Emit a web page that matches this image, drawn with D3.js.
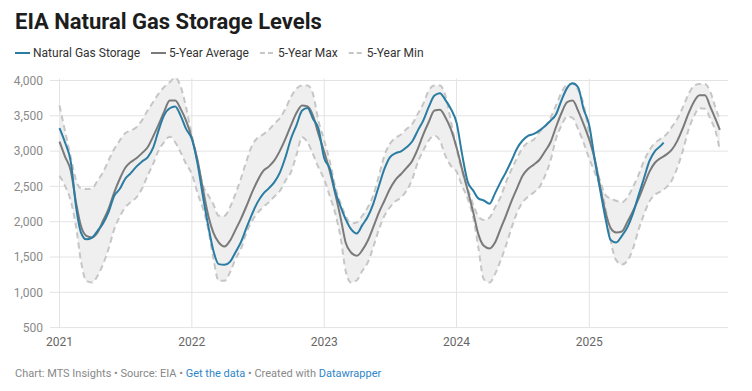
<!DOCTYPE html>
<html><head><meta charset="utf-8">
<script src="https://cdn.jsdelivr.net/npm/d3@7"></script>
<style>
body{margin:0;background:#fff;}
svg text{font-family:Roboto,"Noto Sans",sans-serif;}
</style></head><body>
<svg id="c" width="752" height="391"></svg>
<script>
// ---------- DATA ----------
const years = [2021, 2022, 2023, 2024, 2025];
const yTicks = [500, 1000, 1500, 2000, 2500, 3000, 3500, 4000];
const seriesNames = ["Natural Gas Storage", "5-Year Average", "5-Year Max", "5-Year Min"];

// semi-monthly readings (1st and 16th of each month), Bcf
const storageValues = [
  3324, 3125, 2850, 2200, 1850, 1750, 1775, 1871, 1975, 2132, 2368, 2463, 2605, 2685, 2780, 2850, 2912, 3045, 3290, 3503, 3607, 3631, 3503, 3314, // 2021
  3172, 2841, 2344, 1919, 1597, 1399, 1389, 1432, 1564, 1706, 1919, 2108, 2274, 2392, 2472, 2557, 2699, 2912, 3172, 3361, 3574, 3612, 3456, 3320, // 2022
  2900, 2760, 2415, 2203, 2037, 1895, 1834, 1952, 2070, 2250, 2510, 2747, 2912, 2969, 2997, 3054, 3139, 3290, 3432, 3622, 3787, 3820, 3726, 3600, // 2023
  3400, 2960, 2560, 2440, 2330, 2300, 2255, 2401, 2557, 2699, 2870, 3040, 3150, 3215, 3243, 3290, 3357, 3430, 3518, 3716, 3896, 3962, 3905, 3600, // 2024
  3361, 2880, 2420, 2010, 1740, 1705, 1800, 1920, 2110, 2360, 2620, 2860, 3000, 3070,                                                   // 2025 (to Jul 16)
  3120                                                                                                                                    // 2025-07-25
];
const avgValues = [
  3134, 2926, 2723, 2260, 1942, 1800, 1777, 1848, 2013, 2179, 2415, 2605, 2761, 2841, 2898, 2969, 3054, 3205, 3371, 3551, 3715, 3715, 3598, 3432,
  3186, 2888, 2449, 2070, 1848, 1706, 1649, 1730, 1881, 2037, 2226, 2415, 2581, 2713, 2780, 2865, 3007, 3172, 3361, 3536, 3645, 3631, 3503, 3243,
  2990, 2720, 2380, 2037, 1706, 1564, 1517, 1597, 1730, 1919, 2132, 2297, 2463, 2590, 2676, 2761, 2865, 3030, 3234, 3409, 3574, 3584, 3480, 3314,
  3050, 2747, 2439, 2132, 1824, 1659, 1621, 1706, 1895, 2084, 2297, 2477, 2652, 2747, 2808, 2874, 2997, 3125, 3338, 3536, 3693, 3716, 3574, 3385,
  3160, 2888, 2463, 2108, 1909, 1848, 1862, 1995, 2145, 2315, 2520, 2710, 2835, 2898, 2950, 3016, 3149, 3324, 3527, 3693, 3790, 3790, 3622, 3442,
  3300
];
const maxValues = [
  3645, 3290, 2912, 2581, 2472, 2463, 2472, 2581, 2700, 2865, 3030, 3149, 3253, 3290, 3338, 3432, 3574, 3693, 3811, 3905, 3976, 4038, 3915, 3622,
  3220, 2865, 2510, 2368, 2250, 2084, 2084, 2203, 2392, 2605, 2865, 3078, 3186, 3234, 3300, 3385, 3470, 3598, 3764, 3882, 3929, 3929, 3811, 3432,
  3150, 2865, 2486, 2250, 2084, 1975, 1990, 2084, 2203, 2368, 2652, 2936, 3101, 3186, 3234, 3314, 3385, 3527, 3669, 3858, 3929, 3929, 3787, 3432,
  3030, 2723, 2463, 2240, 2075, 2023, 2061, 2203, 2345, 2557, 2747, 2903, 3045, 3125, 3163, 3267, 3347, 3470, 3645, 3825, 3943, 3953, 3868, 3669,
  3240, 2865, 2557, 2368, 2330, 2297, 2274, 2345, 2486, 2652, 2865, 3016, 3115, 3172, 3234, 3338, 3460, 3620, 3800, 3920, 3950, 3950, 3834, 3598,
  3440
];
const minValues = [
  2652, 2510, 2297, 1919, 1446, 1162, 1139, 1233, 1398, 1611, 1895, 2070, 2203, 2274, 2344, 2463, 2652, 2818, 3007, 3125, 3205, 3125, 2983, 2818,
  2676, 2415, 2179, 1872, 1493, 1162, 1162, 1280, 1469, 1611, 1848, 2013, 2122, 2203, 2274, 2354, 2439, 2581, 2699, 2936, 3196, 3125, 2959, 2770,
  2600, 2368, 2108, 1753, 1304, 1139, 1171, 1304, 1422, 1635, 1895, 2084, 2203, 2288, 2344, 2439, 2605, 2841, 3007, 3149, 3220, 3149, 2936, 2794,
  2710, 2510, 2321, 2061, 1635, 1186, 1139, 1257, 1446, 1659, 1919, 2132, 2274, 2354, 2415, 2486, 2652, 2865, 3172, 3361, 3489, 3470, 3314, 3125,
  2890, 2700, 2486, 2155, 1730, 1455, 1394, 1446, 1611, 1872, 2108, 2288, 2383, 2425, 2486, 2581, 2770, 3007, 3291, 3489, 3607, 3600, 3456, 3267,
  3010
];

// dates (1st and 16th of each month)
const halfMonthDates = [];
years.forEach(yr => { for (let m = 0; m < 12; m++) { halfMonthDates.push(new Date(yr, m, 1)); halfMonthDates.push(new Date(yr, m, 16)); } });
const storageDates = halfMonthDates.slice(0, storageValues.length - 1).concat([new Date(2025, 6, 25)]);
const bandDates = halfMonthDates.concat([new Date(2025, 11, 27)]);

// ---------- CHART ----------
const svg = d3.select("#c");
const colors = { storage: "#2a7ca2", avg: "#7a7a7a", band: "#c6c6c6", fill: "#efefef", grid: "#e3e3e3" };

const x = d3.scaleTime().domain([new Date(2021, 0, 1), new Date(2025, 0, 1)]).range([59.5, 589.3]);
const y = d3.scaleLinear().domain([500, 4000]).range([327.6, 80.5]);
const gridLeft = 50, gridRight = 728;

// title
svg.append("text").attr("x", 15).attr("y", 29).attr("font-size", 22).attr("font-weight", 700)
  .attr("fill", "#1d1d1d").text("EIA Natural Gas Storage Levels");

// legend
const lg = svg.append("g");
let lx = 15;
const legendStyles = [
  { stroke: colors.storage, dash: null },
  { stroke: colors.avg, dash: null },
  { stroke: colors.band, dash: "5,3" },
  { stroke: colors.band, dash: "5,3" }
];
seriesNames.forEach((name, i) => {
  const st = legendStyles[i];
  lg.append("line").attr("x1", lx).attr("x2", lx + 15).attr("y1", 53).attr("y2", 53)
    .attr("stroke", st.stroke).attr("stroke-width", 2).attr("stroke-dasharray", st.dash);
  const t = lg.append("text").attr("x", lx + 18).attr("y", 57.2).attr("font-size", 12).attr("fill", "#333").text(name);
  lx += 18 + t.node().getComputedTextLength() + 11;
});

// y grid + labels
const gy = svg.append("g");
yTicks.forEach(v => {
  gy.append("line").attr("x1", gridLeft).attr("x2", gridRight).attr("y1", y(v)).attr("y2", y(v))
    .attr("stroke", colors.grid).attr("stroke-width", 1);
  gy.append("text").attr("x", 43).attr("y", y(v) + 4.3).attr("text-anchor", "end")
    .attr("font-size", 12).attr("fill", "#8a8a8a").text(d3.format(",")(v));
});

// x grid + labels
const gx = svg.append("g");
years.forEach(yr => {
  const xx = x(new Date(yr, 0, 1));
  gx.append("line").attr("x1", xx).attr("x2", xx).attr("y1", y(4000) - 2).attr("y2", y(500))
    .attr("stroke", colors.grid).attr("stroke-width", 1);
  gx.append("text").attr("x", xx).attr("y", 345.5).attr("text-anchor", "middle")
    .attr("font-size", 12).attr("fill", "#666").text(yr);
});

// band
const bandData = bandDates.map((d, i) => ({ date: d, max: maxValues[i], min: minValues[i], avg: avgValues[i] }));
const storageData = storageDates.map((d, i) => ({ date: d, v: storageValues[i] }));

svg.append("path").datum(bandData)
  .attr("d", d3.area().x(d => x(d.date)).y0(d => y(d.min)).y1(d => y(d.max)).curve(d3.curveMonotoneX))
  .attr("fill", colors.fill);

const lineOf = acc => d3.line().x(d => x(d.date)).y(d => y(acc(d))).curve(d3.curveMonotoneX);
svg.append("path").datum(bandData).attr("d", lineOf(d => d.max))
  .attr("fill", "none").attr("stroke", colors.band).attr("stroke-width", 2).attr("stroke-dasharray", "6,4");
svg.append("path").datum(bandData).attr("d", lineOf(d => d.min))
  .attr("fill", "none").attr("stroke", colors.band).attr("stroke-width", 2).attr("stroke-dasharray", "6,4");
svg.append("path").datum(bandData).attr("d", lineOf(d => d.avg))
  .attr("fill", "none").attr("stroke", colors.avg).attr("stroke-width", 2);
svg.append("path").datum(storageData).attr("d", lineOf(d => d.v))
  .attr("fill", "none").attr("stroke", colors.storage).attr("stroke-width", 2);

// footer
const ft = svg.append("text").attr("x", 15).attr("y", 377).attr("font-size", 11).attr("fill", "#888");
ft.append("tspan").text("Chart: MTS Insights • Source: EIA • ");
ft.append("tspan").attr("fill", "#2f86c9").text("Get the data");
ft.append("tspan").text(" • Created with ");
ft.append("tspan").attr("fill", "#2f86c9").text("Datawrapper");
</script>
</body></html>
